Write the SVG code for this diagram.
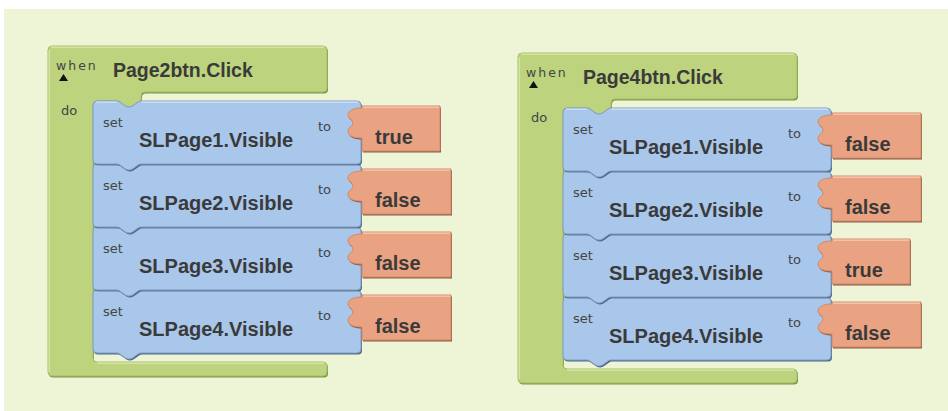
<svg xmlns="http://www.w3.org/2000/svg" xmlns:xlink="http://www.w3.org/1999/xlink" width="948" height="411" viewBox="0 0 948 411">
<style>
.bg{fill:#eef5d6}
.g{fill:#bdd37e;stroke:#a6bd66;stroke-width:1}
.gs{fill:#7c9543}
.gh{fill:none;stroke:#dbe9ae;stroke-width:1.2}
.b{fill:#a9c7ea;stroke:#7f9dc2;stroke-width:1}
.bs{fill:#4f6788}
.bh{fill:none;stroke:#d2e3f7;stroke-width:1.2}
.o{fill:#eaa382;stroke:#cf8a6b;stroke-width:1}
.os{fill:#8c5841}
.oh{fill:none;stroke:#f8ccb5;stroke-width:1.2}
.sm{font-family:"DejaVu Sans",Verdana,sans-serif;font-size:13px;fill:#444}
.big{font-family:"Liberation Sans",Arial,sans-serif;font-weight:bold;font-size:20px;fill:#3a3a3a}
.hdr{font-family:"Liberation Sans",Arial,sans-serif;font-weight:bold;font-size:19.5px;fill:#3a3a3a}
.when{font-family:"DejaVu Sans",Verdana,sans-serif;font-size:12.5px;fill:#444;letter-spacing:2px}
</style>
<defs>
<path id="gPath" d="M 4 0 H 275 Q 279 0 279 4 V 42 Q 279 46 275 46 H 97 Q 93 46 93 50 V 55 C 89 55 86 61 81 61 C 76 61 73 55 69 55 H 49 Q 45 55 45 59 V 312 Q 45 316 49 316 H 275 Q 279 316 279 320 V 326 Q 279 330 275 330 H 4 Q 0 330 0 326 V 4 Q 0 0 4 0 Z"/>
<g id="greenBlk">
<use xlink:href="#gPath" href="#gPath" class="gs" transform="translate(1,1.5)"/>
<use xlink:href="#gPath" href="#gPath" class="g"/>
<path class="gh" d="M 3 1.2 H 276 M 49 317.2 H 276 M 1.2 4 V 326"/>
</g>
<path id="bPath" d="M 4 0 H 24 C 28 0 31 6 36 6 C 41 6 44 0 48 0 H 264 Q 268 0 268 4 V 59 Q 268 63 264 63 H 48 C 44 63 41 69 36 69 C 31 69 28 63 24 63 H 4 Q 0 63 0 59 V 4 Q 0 0 4 0 Z"/>
<g id="blueBlk">
<use xlink:href="#bPath" href="#bPath" class="bs" transform="translate(1,1.5)"/>
<use xlink:href="#bPath" href="#bPath" class="b"/>
<path class="bh" d="M 3 1.2 H 24 M 48 1.2 H 265"/>
</g>
<path id="oTPath" d="M 1 5 H 79 V 50 H 1 V 37 C -6 37 -13 36 -13 30 C -13 26 -8 26 -8 22 C -8 18 -13 18 -13 14 C -13 9 -6 7 1 7 Z"/>
<path id="oFPath" d="M 1 5 H 90 V 50 H 1 V 37 C -6 37 -13 36 -13 30 C -13 26 -8 26 -8 22 C -8 18 -13 18 -13 14 C -13 9 -6 7 1 7 Z"/>
<g id="oTrue">
<use xlink:href="#oTPath" href="#oTPath" class="os" transform="translate(1,1.5)"/>
<use xlink:href="#oTPath" href="#oTPath" class="o"/>
<path class="oh" d="M 2 6.2 H 78"/>
</g>
<g id="oFalse">
<use xlink:href="#oFPath" href="#oFPath" class="os" transform="translate(1,1.5)"/>
<use xlink:href="#oFPath" href="#oFPath" class="o"/>
<path class="oh" d="M 2 6.2 H 89"/>
</g>
</defs>
<rect x="0" y="0" width="948" height="411" fill="#ffffff"/>
<rect class="bg" x="4" y="9" width="944" height="402"/>

<g id="event-page2btn-click">
<g transform="translate(48,46)"><use xlink:href="#greenBlk" href="#greenBlk"/></g>
<text class="when" x="56" y="70">when</text>
<polygon points="59,81 63.5,74 68,81" fill="#111"/>
<text class="hdr" x="113" y="77">Page2btn.Click</text>
<text class="sm" x="61" y="115">do</text>

<g id="l-set4" transform="translate(93,290)">
<use xlink:href="#blueBlk" href="#blueBlk"/>
<text class="sm" x="10" y="26">set</text>
<text class="big" x="46" y="46">SLPage4.Visible</text>
<text class="sm" x="225" y="30">to</text>
<g id="l-val4" transform="translate(268,0)"><use xlink:href="#oFalse" href="#oFalse"/><text class="big" x="14" y="43">false</text></g>
</g>
<g id="l-set3" transform="translate(93,227)">
<use xlink:href="#blueBlk" href="#blueBlk"/>
<text class="sm" x="10" y="26">set</text>
<text class="big" x="46" y="46">SLPage3.Visible</text>
<text class="sm" x="225" y="30">to</text>
<g id="l-val3" transform="translate(268,0)"><use xlink:href="#oFalse" href="#oFalse"/><text class="big" x="14" y="43">false</text></g>
</g>
<g id="l-set2" transform="translate(93,164)">
<use xlink:href="#blueBlk" href="#blueBlk"/>
<text class="sm" x="10" y="26">set</text>
<text class="big" x="46" y="46">SLPage2.Visible</text>
<text class="sm" x="225" y="30">to</text>
<g id="l-val2" transform="translate(268,0)"><use xlink:href="#oFalse" href="#oFalse"/><text class="big" x="14" y="43">false</text></g>
</g>
<g id="l-set1" transform="translate(93,101)">
<use xlink:href="#blueBlk" href="#blueBlk"/>
<text class="sm" x="10" y="26">set</text>
<text class="big" x="46" y="46">SLPage1.Visible</text>
<text class="sm" x="225" y="30">to</text>
<g id="l-val1" transform="translate(268,0)"><use xlink:href="#oTrue" href="#oTrue"/><text class="big" x="14" y="43">true</text></g>
</g>
</g>

<g id="event-page4btn-click" transform="translate(470,7)">
<g transform="translate(48,46)"><use xlink:href="#greenBlk" href="#greenBlk"/></g>
<text class="when" x="56" y="70">when</text>
<polygon points="59,81 63.5,74 68,81" fill="#111"/>
<text class="hdr" x="113" y="77">Page4btn.Click</text>
<text class="sm" x="61" y="115">do</text>

<g id="r-set4" transform="translate(93,290)">
<use xlink:href="#blueBlk" href="#blueBlk"/>
<text class="sm" x="10" y="26">set</text>
<text class="big" x="46" y="46">SLPage4.Visible</text>
<text class="sm" x="225" y="30">to</text>
<g id="r-val4" transform="translate(268,0)"><use xlink:href="#oFalse" href="#oFalse"/><text class="big" x="14" y="43">false</text></g>
</g>
<g id="r-set3" transform="translate(93,227)">
<use xlink:href="#blueBlk" href="#blueBlk"/>
<text class="sm" x="10" y="26">set</text>
<text class="big" x="46" y="46">SLPage3.Visible</text>
<text class="sm" x="225" y="30">to</text>
<g id="r-val3" transform="translate(268,0)"><use xlink:href="#oTrue" href="#oTrue"/><text class="big" x="14" y="43">true</text></g>
</g>
<g id="r-set2" transform="translate(93,164)">
<use xlink:href="#blueBlk" href="#blueBlk"/>
<text class="sm" x="10" y="26">set</text>
<text class="big" x="46" y="46">SLPage2.Visible</text>
<text class="sm" x="225" y="30">to</text>
<g id="r-val2" transform="translate(268,0)"><use xlink:href="#oFalse" href="#oFalse"/><text class="big" x="14" y="43">false</text></g>
</g>
<g id="r-set1" transform="translate(93,101)">
<use xlink:href="#blueBlk" href="#blueBlk"/>
<text class="sm" x="10" y="26">set</text>
<text class="big" x="46" y="46">SLPage1.Visible</text>
<text class="sm" x="225" y="30">to</text>
<g id="r-val1" transform="translate(268,0)"><use xlink:href="#oFalse" href="#oFalse"/><text class="big" x="14" y="43">false</text></g>
</g>
</g>
</svg>
